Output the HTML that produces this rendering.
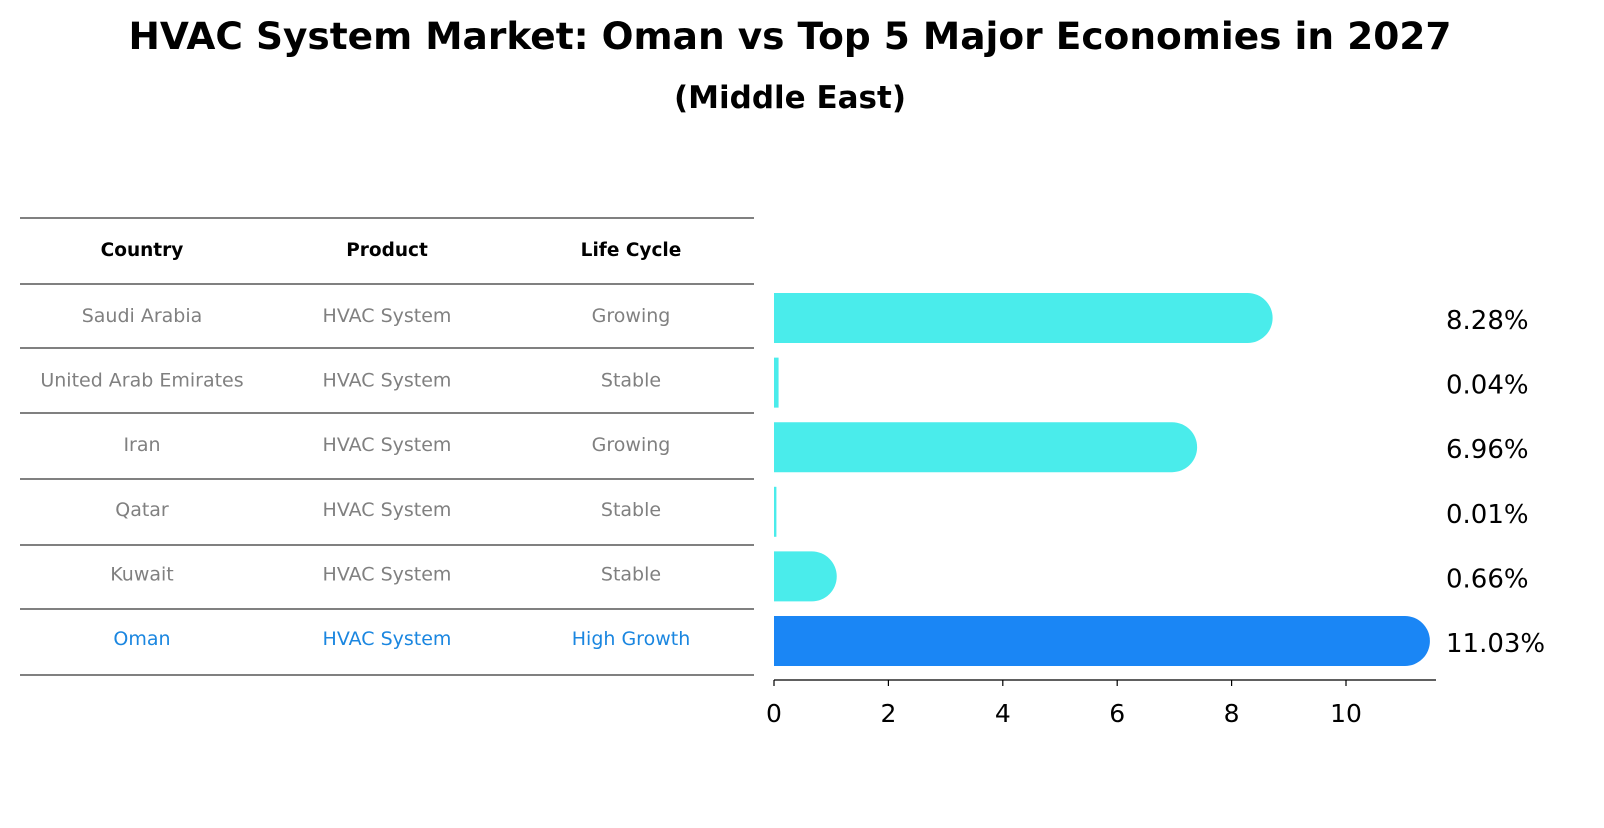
<!DOCTYPE html>
<html><head><meta charset="utf-8"><style>
body{margin:0;background:#fff;font-family:"Liberation Sans","DejaVu Sans",sans-serif}
</style></head><body>
<svg width="1604" height="823" xmlns="http://www.w3.org/2000/svg" font-family="DejaVu Sans, Liberation Sans, sans-serif">
<text x="790" y="49" text-anchor="middle" font-size="37.5" font-weight="bold">HVAC System Market: Oman vs Top 5 Major Economies in 2027</text>
<text x="790" y="108" text-anchor="middle" font-size="31" font-weight="bold">(Middle East)</text>
<g id="table"></g>
<g id="chart"></g>
</svg>
<script>
const countries=["Saudi Arabia","United Arab Emirates","Iran","Qatar","Kuwait","Oman"];
const products=["HVAC System","HVAC System","HVAC System","HVAC System","HVAC System","HVAC System"];
const lifeCycles=["Growing","Stable","Growing","Stable","Stable","High Growth"];
const values=[8.28,0.04,6.96,0.01,0.66,11.03];
const ticks=[0,2,4,6,8,10];
const NS="http://www.w3.org/2000/svg";
function mk(p,tag,a,txt){const e=document.createElementNS(NS,tag);for(const k in a)e.setAttribute(k,a[k]);if(txt!==undefined)e.textContent=txt;p.appendChild(e);return e;}
const tbl=document.getElementById('table'),ch=document.getElementById('chart');
const x0=774,ppu=57.2;
const xs=v=>x0+v*ppu;
const rowY=i=>316+i*64.6;
const colX=[142,387,631];
[218,284,348,413,479,545,609,675].forEach(y=>{
 const l=mk(tbl,'line',{x1:20,x2:754,y1:y,y2:y,stroke:'#000','stroke-width':1});
 
 
});
["Country","Product","Life Cycle"].forEach((h,j)=>{
 const t=mk(tbl,'text',{x:colX[j],y:256,'text-anchor':'middle','font-size':18.5,'font-weight':'bold'},h);
 
 
});
countries.forEach((c,i)=>{
 const col=i===5?'#1a86e0':'#808080';
 [c,products[i],lifeCycles[i]].forEach((s,j)=>{
  const t=mk(tbl,'text',{x:colX[j],y:rowY(i)+6,'text-anchor':'middle','font-size':19,fill:col},s);
  
  
 });
 const v=values[i],h=50,y=rowY(i)+2-h/2,r=h/2;
 const fill=i===5?'#1a86f5':'#4aeceb';
 const w=xs(v)-x0;
 let d;
 if(w>=r) d=`M${x0},${y}H${xs(v)}A${r},${r} 0 0 1 ${xs(v)},${y+h}H${x0}Z`;
 else d=`M${x0},${y}H${x0+w}V${y+h}H${x0}Z`;
 if(v<0.1) d=`M${x0},${y}H${x0+Math.max(w,1.2)*2}V${y+h}H${x0}Z`;
 const b=mk(ch,'path',{d:d,fill:fill});
 
 
 const lb=mk(ch,'text',{x:1446,y:rowY(i)+13,'font-size':26},v.toFixed(2)+'%');
 
 
});
const ax=mk(ch,'line',{x1:x0,x2:1436,y1:680,y2:680,stroke:'#000','stroke-width':1.2});


ticks.forEach(t=>{
 const l=mk(ch,'line',{x1:xs(t),x2:xs(t),y1:680,y2:686,stroke:'#000','stroke-width':1.2});
 
 
 const tx=mk(ch,'text',{x:xs(t),y:722,'text-anchor':'middle','font-size':25},String(t));
 
 
});
</script>
</body></html>
